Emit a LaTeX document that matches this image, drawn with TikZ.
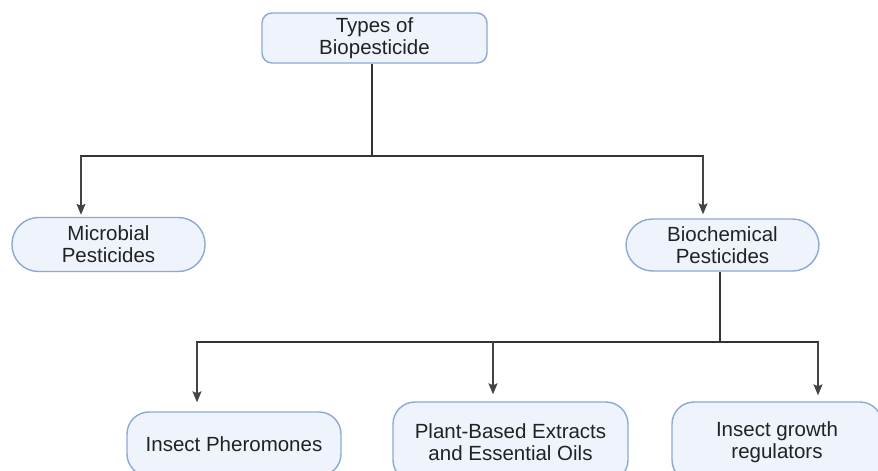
\documentclass[tikz,border=0pt]{standalone}
\usepackage{fontspec}
\setmainfont{Liberation Sans}
\usetikzlibrary{arrows.meta}
\definecolor{boxfill}{HTML}{EEF3FC}
\definecolor{boxline}{HTML}{8CA8D6}
\definecolor{txt}{HTML}{222222}
\definecolor{busc}{HTML}{333333}
\definecolor{arrc}{HTML}{444444}
\begin{document}
\begin{tikzpicture}[x=1pt,y=1pt,
  box/.style={draw=boxline,fill=boxfill,line width=1.4pt,inner sep=0pt,
    align=center,text=txt,font=\fontsize{20.5}{22}\selectfont},
  pill/.style={box,rounded corners=26.5pt},
  bus/.style={draw=busc,line width=2pt},
  arr/.style={draw=arrc,line width=1.2pt,-{Stealth[length=11pt,width=9pt,inset=2pt]}}]
\clip (0,0) rectangle (878,-471);
\fill[white] (0,0) rectangle (878,-471);
% nodes
\node[box,rounded corners=10pt,minimum width=225pt,minimum height=50pt] (top) at (374.5,-38) {Types of\\Biopesticide};
\node[pill,minimum width=193pt,minimum height=54pt] (micro) at (108.5,-244.5) {Microbial\\Pesticides};
\node[pill,minimum width=193pt,minimum height=52pt] (bioc) at (722.5,-245) {Biochemical\\Pesticides};
\node[box,rounded corners=22pt,minimum width=214pt,minimum height=64pt] (phero) at (234,-444) {Insect Pheromones};
\node[box,rounded corners=22pt,minimum width=235pt,minimum height=80pt] (plant) at (510.5,-442) {Plant-Based Extracts\\and Essential Oils};
\node[box,rounded corners=22pt,minimum width=210pt,minimum height=80pt] (igr) at (777,-442) {Insect growth\\regulators};
% bus coordinates
\coordinate (b1) at (372,-156);
\coordinate (b1l) at (81,-156);
\coordinate (b1r) at (703,-156);
\coordinate (b2) at (720,-342);
\coordinate (b2l) at (197,-342);
\coordinate (b2m) at (493,-342);
\coordinate (b2r) at (818,-342);
% connectors
\draw[bus] (b1 |- top.south) -- (b1);
\draw[bus] ([xshift=-1pt]b1l) -- ([xshift=1pt]b1r);
\draw[arr,shorten >=2pt] (b1l) -- (b1l |- micro.north);
\draw[arr,shorten >=4pt] (b1r) -- (b1r |- bioc.north);
\draw[bus] (b2 |- bioc.south) -- (b2);
\draw[bus] ([xshift=-1pt]b2l) -- ([xshift=1pt]b2r);
\draw[arr,shorten >=9pt] (b2l) -- (b2l |- phero.north);
\draw[arr,shorten >=7pt] (b2m) -- (b2m |- plant.north);
\draw[arr,shorten >=6pt] (b2r) -- (b2r |- igr.north);
\end{tikzpicture}
\end{document}
